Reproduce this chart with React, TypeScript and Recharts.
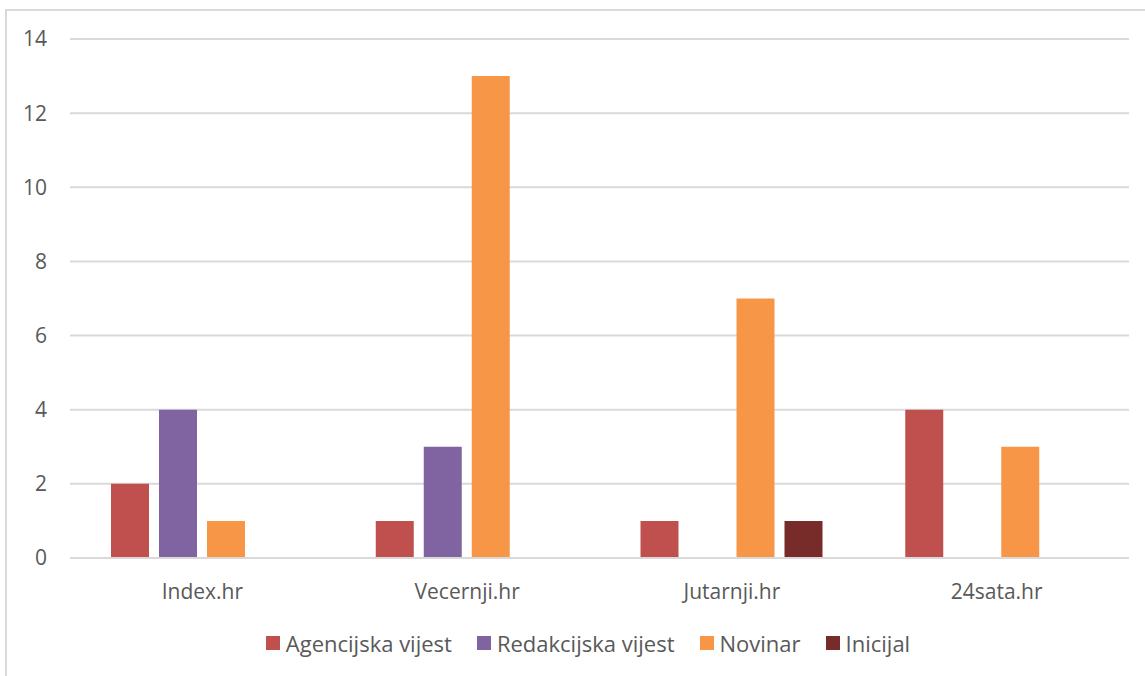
import { BarChart, Bar, XAxis, YAxis, CartesianGrid, Legend } from "recharts";

const sites = ["Index.hr", "Vecernji.hr", "Jutarnji.hr", "24sata.hr"];
const agencijska = [2, 1, 1, 4];
const redakcijska = [4, 3, 0, 0];
const novinar = [1, 13, 7, 3];
const inicijal = [0, 0, 1, 0];
const yTicks = [0, 2, 4, 6, 8, 10, 12, 14];

const series = [
    { key: "agencijska", name: "Agencijska vijest", color: "#C0504D" },
    { key: "redakcijska", name: "Redakcijska vijest", color: "#8064A2" },
    { key: "novinar", name: "Novinar", color: "#F79646" },
    { key: "inicijal", name: "Inicijal", color: "#772C2A" },
];

const data = sites.map((name, i) => ({
    name,
    agencijska: agencijska[i],
    redakcijska: redakcijska[i],
    novinar: novinar[i],
    inicijal: inicijal[i],
}));

const font = "'Open Sans', sans-serif";

const renderLegend = () => (
    <div
        style={{
            height: 30,
            display: "flex",
            justifyContent: "center",
            alignItems: "center",
            gap: 25,
            fontFamily: font,
            fontSize: 22,
            color: "#595959",
            paddingLeft: 47,
        }}
    >
        {series.map((s) => (
            <div key={s.key} style={{ display: "flex", alignItems: "center" }}>
                <span style={{ width: 14, height: 14, background: s.color, marginRight: 6 }} />
                <span>{s.name}</span>
            </div>
        ))}
    </div>
);

export default function App() {
    return (
        <div style={{ position: "absolute", left: 0, top: 0, width: 1145, height: 676, overflow: "hidden", background: "#fff" }}>
            <div
                style={{
                    position: "absolute",
                    left: 5,
                    top: 9,
                    width: 1160,
                    height: 700,
                    border: "2px solid #d9d9d9",
                }}
            />
            <div style={{ position: "absolute", left: 0, top: 0 }}>
                <BarChart
                    width={1145}
                    height={676}
                    data={data}
                    margin={{ top: 39, right: 16, left: 0, bottom: 18 }}
                    barSize={38}
                    barGap={10}
                >
                    <CartesianGrid vertical={false} stroke="#d9d9d9" strokeWidth={2} />
                    <XAxis
                        dataKey="name"
                        height={70}
                        axisLine={{ stroke: "#d9d9d9", strokeWidth: 2 }}
                        tickLine={false}
                        tickSize={0}
                        tickMargin={26}
                        tick={{ fill: "#595959", fontSize: 21, fontFamily: font }}
                    />
                    <YAxis
                        width={70}
                        domain={[0, 14]}
                        ticks={yTicks}
                        axisLine={false}
                        tickLine={false}
                        tickSize={0}
                        tickMargin={23}
                        tick={{ fill: "#595959", fontSize: 21, fontFamily: font }}
                    />
                    <Legend verticalAlign="bottom" content={renderLegend} />
                    {series.map((s) => (
                        <Bar key={s.key} dataKey={s.key} name={s.name} fill={s.color} isAnimationActive={false} />
                    ))}
                </BarChart>
            </div>
        </div>
    );
}
